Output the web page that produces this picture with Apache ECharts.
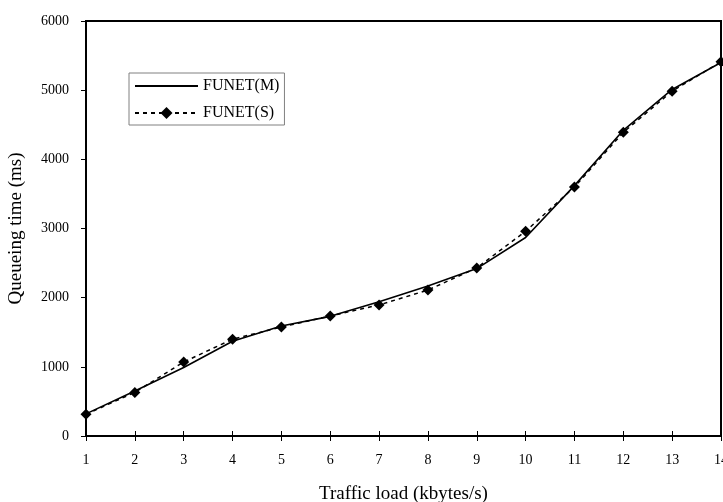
<!DOCTYPE html>
<html>
<head>
<meta charset="utf-8">
<script src="https://cdn.jsdelivr.net/npm/echarts@6/dist/echarts.min.js"></script>
<style>html,body{margin:0;padding:0;background:#fff}#c{width:723px;height:502px}</style>
</head>
<body>
<div id="c"></div>
<script>
const xs = [1,2,3,4,5,6,7,8,9,10,11,12,13,14];
const funetM = [320,650,990,1370,1590,1730,1940,2170,2420,2870,3620,4420,5010,5400];
const funetS = [315,630,1070,1400,1575,1735,1895,2110,2430,2960,3600,4390,4985,5410];
const seriesNames = ['FUNET(M)','FUNET(S)'];

const font = "'Liberation Serif','Times New Roman',serif";
const chart = echarts.init(document.getElementById('c'), null, {renderer:'canvas'});
const pair = arr => xs.map((x,i)=>[x,arr[i]]);
chart.setOption({
  animation:false,
  backgroundColor:'#fff',
  textStyle:{fontFamily:font,color:'#000'},
  grid:{left:86,right:2,top:21,bottom:66,outerBoundsMode:'none',containLabel:false,show:true,borderColor:'#000',borderWidth:2,backgroundColor:'transparent'},
  legend:{
    left:129, top:73, orient:'vertical', padding:[5,5,4,5], itemGap:11,
    itemWidth:63, itemHeight:15, borderColor:'#808080', borderWidth:1,
    textStyle:{fontFamily:font,fontSize:16,color:'#000'},
    data:[
      {name:seriesNames[0],itemStyle:{color:'rgba(0,0,0,0)',borderColor:'rgba(0,0,0,0)',borderWidth:0}},
      {name:seriesNames[1]}
    ]
  },
  xAxis:[{
    type:'value', min:1, max:14, interval:1,
    name:'Traffic load (kbytes/s)', nameLocation:'middle', nameGap:49,
    nameTextStyle:{fontFamily:font,fontSize:19,color:'#000'},
    axisLine:{lineStyle:{color:'#000',width:2}},
    axisTick:{show:true,length:5,lineStyle:{color:'#000',width:1}},
    axisLabel:{fontFamily:font,fontSize:14,color:'#000',margin:17},
    splitLine:{show:false}
  },{
    type:'value', min:1, max:14, interval:1, position:'bottom',
    axisLine:{show:false}, axisLabel:{show:false}, splitLine:{show:false},
    axisTick:{show:true,inside:true,length:5,lineStyle:{color:'#000',width:1}}
  }],
  yAxis:{
    type:'value', min:0, max:6000, interval:1000,
    name:'Queueing time (ms)', nameLocation:'middle', nameGap:60, nameRotate:90,
    nameTextStyle:{fontFamily:font,fontSize:19,color:'#000'},
    axisLine:{show:true,lineStyle:{color:'#000',width:2}},
    axisTick:{show:true,length:5,lineStyle:{color:'#000',width:1}},
    axisLabel:{fontFamily:font,fontSize:14,color:'#000',margin:17,formatter:v=>String(v)},
    splitLine:{show:false}
  },
  series:[{
    name:seriesNames[0], type:'line', data:pair(funetM), symbol:'none',
    lineStyle:{color:'#000',width:1.6}, itemStyle:{color:'#000'}, z:3
  },{
    name:seriesNames[1], type:'line', data:pair(funetS), symbol:'diamond', symbolSize:11,
    lineStyle:{color:'#000',width:1.5,type:[4,4]}, itemStyle:{color:'#000'}, z:2
  }]
});
</script>
</body>
</html>
